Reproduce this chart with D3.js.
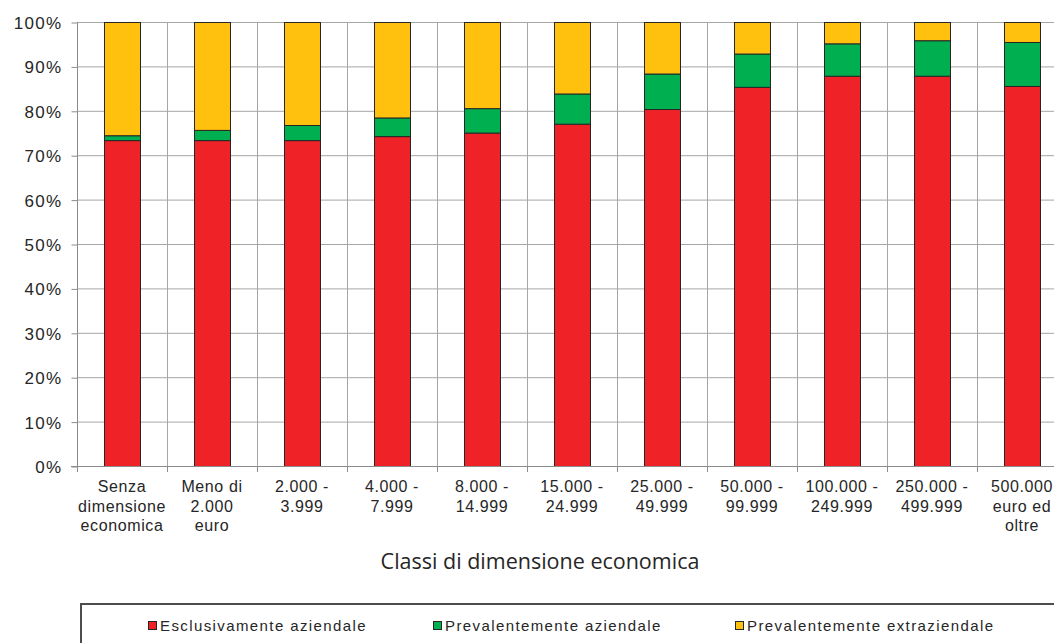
<!doctype html>
<html lang="it">
<head>
<meta charset="utf-8">
<title>Classi di dimensione economica</title>
<script src="https://d3js.org/d3.v7.min.js"></script>
<style>
  body { margin: 0; background: #fff; }
  .grid line { stroke: #a6a6a6; stroke-width: 1px; }
  .axis path, .axis line { stroke: #8c8c8c; stroke-width: 1px; }
  .bar { stroke: #262626; stroke-width: 1px; }
  .tick-label { font-family: "Liberation Sans", Arial, sans-serif; fill: #262626; }
</style>
</head>
<body>
<svg width="1054" height="643"></svg>
<script>
// categories (one array of lines per label)
var categories = [
  ["Senza", "dimensione", "economica"],
  ["Meno di", "2.000", "euro"],
  ["2.000 -", "3.999"],
  ["4.000 -", "7.999"],
  ["8.000 -", "14.999"],
  ["15.000 -", "24.999"],
  ["25.000 -", "49.999"],
  ["50.000 -", "99.999"],
  ["100.000 -", "249.999"],
  ["250.000 -", "499.999"],
  ["500.000", "euro ed", "oltre"]
];

var seriesNames = ["Esclusivamente aziendale", "Prevalentemente aziendale", "Prevalentemente extraziendale"];
var seriesColors = ["#ee2227", "#00b050", "#ffc10e"];

// percentages
var esclusivamente = [73.4, 73.4, 73.4, 74.3, 75.1, 77.1, 80.4, 85.4, 87.9, 87.9, 85.6];
var prevAziendale  = [1.1, 2.3, 3.4, 4.2, 5.5, 6.8, 8.0, 7.5, 7.3, 8.0, 9.9];
var prevExtra      = [25.5, 24.3, 23.2, 21.5, 19.4, 16.1, 11.6, 7.1, 4.8, 4.1, 4.5];

var yTicks = [0, 10, 20, 30, 40, 50, 60, 70, 80, 90, 100];

var rows = categories.map(function(c, i) {
  return {id: i, escl: esclusivamente[i], az: prevAziendale[i], ext: prevExtra[i]};
});

var svg = d3.select("svg");
var plotL = 77, plotT = 22, plotB = 466, plotR = 1067;

var x = d3.scaleBand()
  .domain(d3.range(categories.length))
  .range([plotL, plotR])
  .paddingInner(0.6)
  .paddingOuter(0.3);

var y = d3.scaleLinear().domain([0, 100]).range([plotB, plotT]);

// horizontal grid
svg.append("g").attr("class", "grid")
  .selectAll("line")
  .data(yTicks.slice(1))
  .enter().append("line")
  .attr("x1", plotL).attr("x2", plotR)
  .attr("y1", d => y(d) + 0.5).attr("y2", d => y(d) + 0.5);

// vertical grid at category boundaries
var step = x.step();
svg.append("g").attr("class", "grid")
  .selectAll("line")
  .data(d3.range(1, categories.length + 1))
  .enter().append("line")
  .attr("x1", d => Math.round(plotL + d * step) + 0.5)
  .attr("x2", d => Math.round(plotL + d * step) + 0.5)
  .attr("y1", plotT).attr("y2", plotB);

// stacked bars
var stack = d3.stack().keys(["escl", "az", "ext"]);
var layers = stack(rows);

svg.append("g")
  .selectAll("g")
  .data(layers)
  .enter().append("g")
  .attr("fill", (d, i) => seriesColors[i])
  .selectAll("rect")
  .data(d => d)
  .enter().append("rect")
  .attr("class", "bar")
  .attr("x", d => x(d.data.id) + 0.5)
  .attr("width", x.bandwidth())
  .attr("y", d => y(d[1]) + 0.5)
  .attr("height", d => y(d[0]) - y(d[1]));

// y axis
var yAxis = svg.append("g")
  .attr("class", "axis")
  .attr("transform", "translate(" + (plotL + 0.5) + ",0.5)")
  .call(d3.axisLeft(y).tickValues(yTicks).tickSize(6).tickSizeOuter(0).tickFormat(d => d + "%"));
yAxis.selectAll("text")
  .attr("class", "tick-label")
  .attr("x", -15)
  .attr("dy", "0.35em")
  .style("font-size", "17px")
  .style("letter-spacing", "1.3px");
yAxis.select(".domain").attr("d", "M0," + (plotB - 0.5) + "V" + (plotT - 0.5));

// x axis line and boundary ticks
var xAxis = svg.append("g").attr("class", "axis");
xAxis.append("line")
  .attr("x1", plotL - 6).attr("x2", plotR)
  .attr("y1", plotB + 0.5).attr("y2", plotB + 0.5);
xAxis.selectAll("line.tk")
  .data(d3.range(0, categories.length + 1))
  .enter().append("line")
  .attr("class", "tk")
  .attr("x1", d => Math.round(plotL + d * step) + 0.5)
  .attr("x2", d => Math.round(plotL + d * step) + 0.5)
  .attr("y1", plotB).attr("y2", plotB + 6);

// category labels
svg.append("g")
  .selectAll("text")
  .data(categories)
  .enter().append("text")
  .attr("class", "tick-label")
  .attr("text-anchor", "middle")
  .style("font-size", "16px")
  .style("letter-spacing", "0.6px")
  .attr("transform", (d, i) => "translate(" + (x(i) + x.bandwidth() / 2) + ",492)")
  .selectAll("tspan")
  .data(d => d)
  .enter().append("tspan")
  .attr("x", 0)
  .attr("y", (d, j) => j * 19.5)
  .text(d => d);

// axis title
svg.append("text")
  .attr("x", 540)
  .attr("y", 569)
  .attr("text-anchor", "middle")
  .style("font-family", "'Open Sans', sans-serif")
  .style("font-size", "21.5px")
  .style("fill", "#262626")
  .text("Classi di dimensione economica");

// legend box (runs off the right and bottom edges like the original)
svg.append("path")
  .attr("d", "M81,660V604H1060")
  .attr("fill", "none")
  .attr("stroke", "#4d4d4d")
  .attr("stroke-width", 2);

var legendX = [148, 433, 735];
var legend = svg.append("g")
  .selectAll("g")
  .data(seriesNames)
  .enter().append("g")
  .attr("transform", (d, i) => "translate(" + legendX[i] + ",621)");
legend.append("rect")
  .attr("x", 0.5).attr("y", 0.5)
  .attr("width", 8).attr("height", 8)
  .attr("fill", (d, i) => seriesColors[i])
  .attr("stroke", "#262626");
legend.append("text")
  .attr("class", "tick-label")
  .attr("x", 12)
  .attr("y", 9.5)
  .style("font-size", "15px")
  .style("letter-spacing", "1.4px")
  .text(d => d);
</script>
</body>
</html>
